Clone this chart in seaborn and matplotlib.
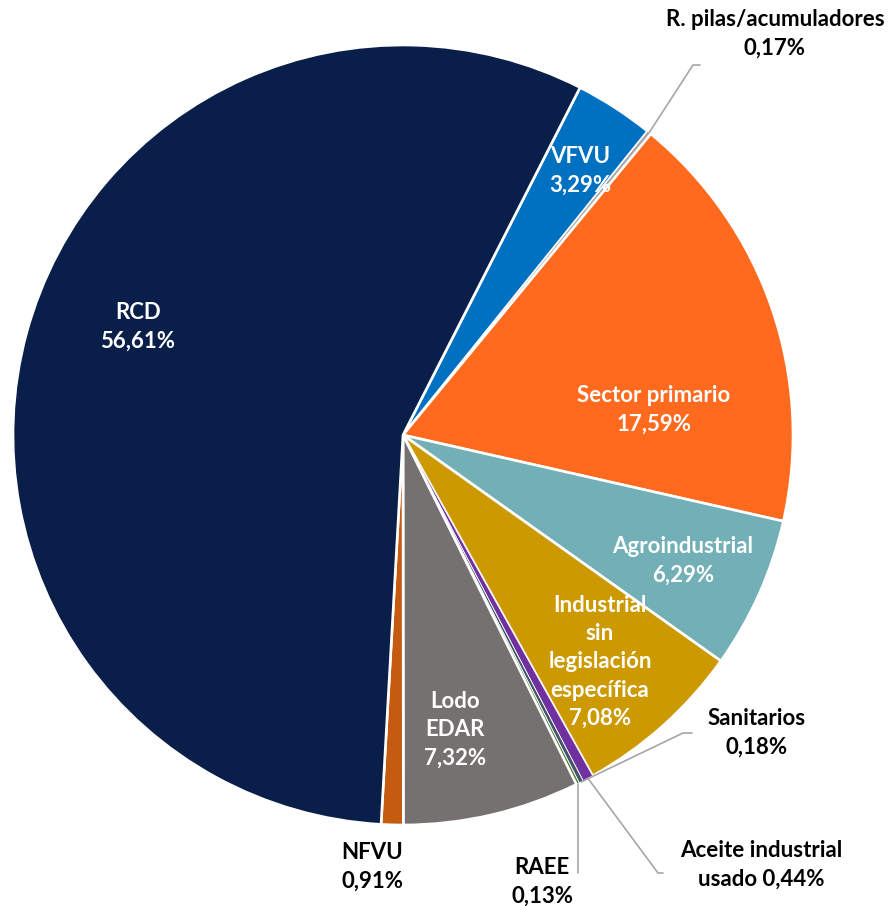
import numpy as np
import matplotlib
matplotlib.use("Agg")
import matplotlib.pyplot as plt
import seaborn as sns

# ---------------- data ----------------
categories = ["VFVU", "R. pilas/acumuladores", "Sector primario", "Agroindustrial",
              "Industrial sin legislación específica", "Aceite industrial usado",
              "Sanitarios", "RAEE", "Lodo EDAR", "NFVU", "RCD"]
values = [3.29, 0.17, 17.59, 6.29, 7.08, 0.44, 0.18, 0.13, 7.32, 0.91, 56.61]
display_names = ["VFVU", "R. pilas/acumuladores", "Sector primario", "Agroindustrial",
                 "Industrial\nsin\nlegislación\nespecífica", "Aceite industrial\nusado",
                 "Sanitarios", "RAEE", "Lodo\nEDAR", "NFVU", "RCD"]
name_value_sep = ["\n", "\n", "\n", "\n", "\n", " ", "\n", "\n", "\n", "\n", "\n"]
colors = ["#0070C0", "#A5A5A5", "#FF6A1F", "#72AFB6", "#CC9900", "#7030A0",
          "#44546A", "#4E7D32", "#767171", "#C55A11", "#0A1E4A"]

# ---------------- style / layout ----------------
sns.set_theme(style="white")
plt.rcParams["font.family"] = ["Lato", "DejaVu Sans"]

W, H, DPI = 892, 906, 100
CX, CY, R = 403, 435, 390
fig = plt.figure(figsize=(W / DPI, H / DPI), dpi=DPI)
ax = fig.add_axes([(CX - R) / W, (H - CY - R) / H, 2 * R / W, 2 * R / H])

wedges, _ = ax.pie(values, colors=colors, startangle=63, counterclock=False,
                   radius=1.0, wedgeprops=dict(edgecolor="white", linewidth=1.9))
# thinner separators on the tiny slices so their colour stays visible
for w, v in zip(wedges, values):
    if v < 0.5:
        w.set_linewidth(0.6)
ax.set_xlim(-1, 1)
ax.set_ylim(-1, 1)
ax.axis("off")


def px2d(px, py):
    return ((px - CX) / R, (CY - py) / R)


def fmt(v):
    return f"{v:.2f}".replace(".", ",") + "%"


label_px = {
    "VFVU": (580, 171),
    "R. pilas/acumuladores": (775, 34),
    "Sector primario": (654, 410),
    "Agroindustrial": (683, 561),
    "Industrial sin legislación específica": (600, 662),
    "Aceite industrial usado": (761, 865),
    "Sanitarios": (757, 733),
    "RAEE": (542, 882),
    "Lodo EDAR": (455, 730),
    "NFVU": (372, 867),
    "RCD": (138, 327),
}
outside = {"R. pilas/acumuladores", "Aceite industrial usado", "Sanitarios", "RAEE", "NFVU"}

FS = 16
for cat, name, sep, v in zip(categories, display_names, name_value_sep, values):
    x, y = px2d(*label_px[cat])
    kw = {}
    if cat == "NFVU":
        kw["bbox"] = dict(boxstyle="square,pad=0.85", facecolor="white", edgecolor="none")
    ax.text(x, y, name + sep + fmt(v), ha="center", va="center", fontsize=FS,
            fontweight="bold", color="black" if cat in outside else "white",
            linespacing=1.42, zorder=5, **kw)

# leader lines from the wedge mid-angle on the rim
leader_pts = {
    "R. pilas/acumuladores": [(693, 65), (700, 65)],
    "Sanitarios": [(683, 733), (692, 733)],
    "Aceite industrial usado": [(658, 873), (663, 873)],
}
for w, cat in zip(wedges, categories):
    mid = np.deg2rad((w.theta1 + w.theta2) / 2)
    ex, ey = np.cos(mid), np.sin(mid)
    if cat in leader_pts:
        pts = [(ex, ey)] + [px2d(*p) for p in leader_pts[cat]]
    elif cat == "RAEE":
        pts = [(ex, ey), (ex, px2d(0, 873)[1])]
    else:
        continue
    xs, ys = zip(*pts)
    ax.plot(xs, ys, color="#A6A6A6", lw=1.2, clip_on=False, zorder=4)

fig.savefig("out.png", dpi=DPI, facecolor="white")
